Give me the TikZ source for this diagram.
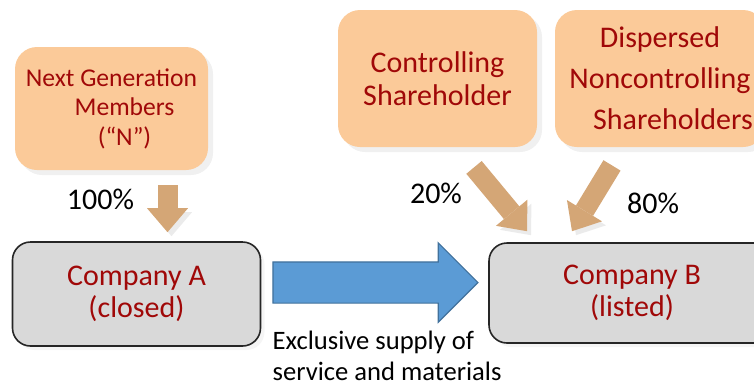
\documentclass[tikz,border=0pt]{standalone}
\usepackage{fontspec}
\setmainfont{Carlito}
\usetikzlibrary{arrows.meta}
\usetikzlibrary{calc}
\usetikzlibrary{shapes.arrows}
\usetikzlibrary{shadows}
\definecolor{ownerfill}{RGB}{251,202,153}
\definecolor{labelred}{RGB}{160,8,8}
\definecolor{companyfill}{RGB}{217,217,217}
\definecolor{sharetan}{RGB}{212,166,118}
\definecolor{supplyblue}{RGB}{91,155,213}
\definecolor{supplyedge}{RGB}{65,113,156}
\tikzset{
    owner box/.style={
        fill=ownerfill,
        rounded corners=11pt,
        text=labelred,
        align=center,
        drop shadow={shadow xshift=2.5pt, shadow yshift=-2.5pt, opacity=0.12},
    },
    company box/.style={
        draw=black!85,
        line width=0.8pt,
        fill=companyfill,
        rounded corners=9pt,
        text=labelred,
        align=center,
        font=\fontsize{15}{16}\selectfont,
        drop shadow={shadow xshift=2pt, shadow yshift=-2pt, opacity=0.08},
    },
    share arrow/.style={
        draw=sharetan,
        line width=10pt,
        -{Triangle[width=20.5pt, length=12pt, line width=0pt]},
        preaction={
            draw=black!8,
            transform canvas={shift={(2pt,-2pt)}},
        },
    },
    supply arrow/.style={
        single arrow,
        fill=supplyblue,
        draw=supplyedge,
        line width=0.6pt,
        inner sep=10pt,
        minimum height=102.5pt,
        single arrow head extend=9.5pt,
    },
    percent label/.style={
        font=\fontsize{15}{18}\selectfont,
        inner sep=0,
        anchor=base,
    },
}

\begin{document}
\begin{tikzpicture}[x=0.5pt, y=-0.5pt]

    \useasboundingbox (0,0) rectangle (754,386);
    \clip (0,0) rectangle (754,386);

    % owners
    \node[owner box, minimum width=96.5pt, minimum height=61.5pt,
        font=\fontsize{12.8}{14.75}\selectfont] (N) at (111.5,108.5)
        {Next Generation\\\hspace*{13pt}Members\\\hspace*{13pt}(“N”)};
    \node[owner box, minimum width=99.5pt, minimum height=68.5pt,
        font=\fontsize{15}{16.5}\selectfont] (C) at (437.5,78.5)
        {Controlling\\Shareholder};
    \node[owner box, minimum width=105pt, minimum height=68.5pt,
        font=\fontsize{15}{20.5}\selectfont] (D) at (660,78.5)
        {Dispersed\\Noncontrolling\\\hspace*{13pt}Shareholders};

    % companies
    \node[company box, minimum width=124pt, minimum height=52pt] (A) at (136.5,294)
        {Company A\\(closed)};
    \node[company box, minimum width=143pt, minimum height=50pt] (B) at (632,293)
        {Company B\\(listed)};

    % shareholdings
    \draw[share arrow] ([shift={(28pt,-7.5pt)}]N.south) -- ([shift={(15.5pt,4.5pt)}]A.north);
    \draw[share arrow] ([shift={(18.25pt,-10pt)}]C.south) -- ([shift={(-52.5pt,5.5pt)}]B.north);
    \draw[share arrow] ([shift={(-24pt,-9pt)}]D.south) -- ([shift={(-30pt,5.5pt)}]B.north);

    \node[percent label] (pN) at (100.5,209) {100\%};
    \node[percent label] (pC) at (436,203) {20\%};
    \node[percent label] (pD) at (653,213) {80\%};

    % supply
    \node[supply arrow, anchor=tail] (supply) at ([shift={(5.5pt,5.75pt)}]A.east) {};
    \node[anchor=north west, inner sep=0, align=left,
        font=\fontsize{13.3}{15.5}\selectfont] (supplynote) at ([yshift=-24pt]supply.tail)
        {Exclusive supply of\\service and materials};

\end{tikzpicture}
\end{document}
